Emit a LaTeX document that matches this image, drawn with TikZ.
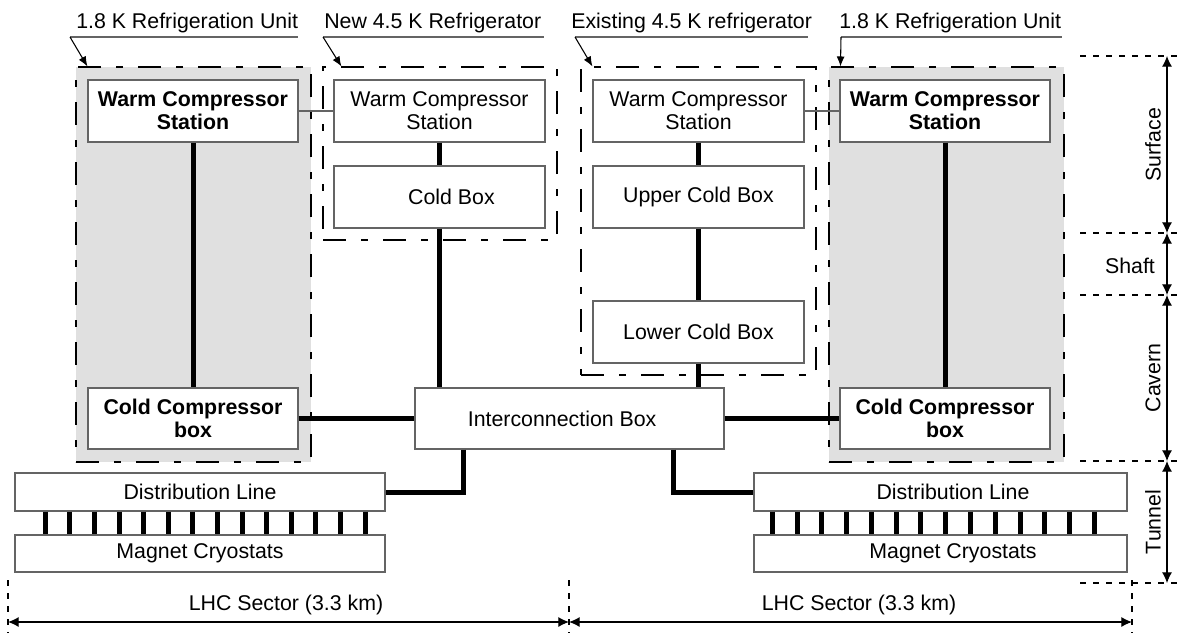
\documentclass[tikz,border=0pt]{standalone}
\usepackage{fontspec}
\setmainfont{Liberation Sans}
\usetikzlibrary{arrows.meta,calc}
\definecolor{regiongrey}{RGB}{224,224,224}
\definecolor{boxline}{RGB}{100,100,100}
\tikzset{
  every node/.style={font=\fontsize{16}{17.25}\selectfont},
  box/.style 2 args={draw=boxline, line width=1pt, fill=white, inner sep=0pt,
    minimum width=#1*0.75pt, minimum height=#2*0.75pt, align=center},
  boldbox/.style 2 args={box={#1}{#2}, font=\fontsize{16}{17.25}\selectfont\bfseries},
  region/.style 2 args={draw=black, line width=0.8pt, inner sep=0pt,
    dash pattern=on 17.25pt off 11.25pt on 5.25pt off 11.25pt,
    minimum width=#1*0.75pt, minimum height=#2*0.75pt},
  pipe/.style={line width=3.75pt, black},
  thinlink/.style={draw=boxline, line width=0.8pt},
  leader/.style={line width=0.8pt, -{Latex[length=7.5pt,width=6pt]}},
  underl/.style={draw=boxline, line width=0.8pt},
  dimline/.style={line width=0.8pt, {Latex[length=8pt,width=7.5pt]}-{Latex[length=8pt,width=7.5pt]}},
  dimdash/.style={line width=0.8pt, dash pattern=on 4.5pt off 5.25pt},
  lbl/.style={anchor=base west, inner sep=0pt},
}
\begin{document}
\begin{tikzpicture}[x=0.75pt, y=-0.75pt]
\useasboundingbox (0,0) rectangle (1177,633);

% regions
\node[region={235}{395}, fill=regiongrey] (lreg) at (193.5,264.5) {};
\node[region={234}{173}] (nreg) at (440,153.5) {};
\node[region={235}{308}] (ereg) at (698.5,221) {};
\node[region={235}{395}, fill=regiongrey] (rreg) at (946.5,264.5) {};

% region labels with leaders
\node[lbl] (t1) at (76,28) {1.8 K Refrigeration Unit};
\node[lbl] (t2) at (324,28) {New 4.5 K Refrigerator};
\node[lbl] (t3) at (571,28) {Existing 4.5 K refrigerator};
\node[lbl] (t4) at (839,28) {1.8 K Refrigeration Unit};
\coordinate (u1s) at (70,37);  \coordinate (u1e) at (298,37);
\coordinate (u2s) at (323,37); \coordinate (u2e) at (544,37);
\coordinate (u3s) at (575,37); \coordinate (u3e) at (808,37);
\coordinate (u4s) at (841,37); \coordinate (u4e) at (1062,37);
\draw[underl] (u1s) -- (u1e);
\draw[underl] (u2s) -- (u2e);
\draw[underl] (u3s) -- (u3e);
\draw[underl] (u4s) -- (u4e);
\draw[leader] (u1s) -- ($(lreg.north west)+(12,0)$);
\draw[leader] (u2s) -- ($(nreg.north west)+(19,0)$);
\draw[leader] (u3s) -- ($(ereg.north west)+(12,0)$);
\draw[leader] (u4s) -- ($(rreg.north west)+(12,0)$);

% boxes
\node[boldbox={210}{62}] (lwcs) at (193,111) {Warm Compressor\\Station};
\node[boldbox={210}{61}] (lccb) at (193,418.5) {Cold Compressor\\box};
\node[box={211}{62}] (nwcs) at (439.5,111) {Warm Compressor\\Station};
\node[box={211}{62}] (ncb) at (439.5,197) {\hspace*{18pt}Cold Box};
\node[box={211}{62}] (ewcs) at (698.5,111) {Warm Compressor\\Station};
\node[box={211}{62}] (eucb) at (698.5,197) {Upper Cold Box};
\node[box={211}{62}] (elcb) at (698.5,332) {Lower Cold Box};
\node[boldbox={210}{62}] (rwcs) at (945,111) {Warm Compressor\\Station};
\node[boldbox={210}{61}] (rccb) at (945,418.5) {Cold Compressor\\box};
\node[box={309}{61}] (ib) at (569.5,418.5) {Interconnection Box\kern11pt};
\node[box={370}{38}] (ldl) at (200,492) {Distribution Line};
\node[box={370}{37}] (lmc) at (200,553.5) {Magnet Cryostats};
\node[box={373}{38}] (rdl) at (940.5,492) {\hspace*{18.75pt}Distribution Line};
\node[box={373}{37}] (rmc) at (940.5,553.5) {\hspace*{18.75pt}Magnet Cryostats};

% thin links
\draw[thinlink] (lwcs.east) -- (nwcs.west);
\draw[thinlink] (ewcs.east) -- (rwcs.west);

% pipes
\draw[pipe] (lwcs.south) -- (lccb.north);
\draw[pipe] (rwcs.south) -- (rccb.north);
\draw[pipe] (nwcs.south) -- (ncb.north);
\draw[pipe] (ncb.south) -- (ncb.south |- ib.north);
\draw[pipe] (ewcs.south) -- (eucb.north);
\draw[pipe] (eucb.south) -- (elcb.north);
\draw[pipe] (elcb.south) -- (elcb.south |- ib.north);
\draw[pipe] (lccb.east) -- (ib.west);
\draw[pipe] (ib.east) -- (rccb.west);
\coordinate (ibl) at ($(ib.south west)+(49,0)$);
\coordinate (ibr) at ($(ib.south west)+(259.5,0)$);
\draw[pipe] (ibl) |- (ldl.east);
\draw[pipe] (ibr) |- (rdl.west);
\foreach \i in {0,...,13} {
  \coordinate (lb) at ($(ldl.south west)+(31+24.6*\i,0)$);
  \draw[pipe] (lb) -- (lb |- lmc.north);
  \coordinate (rb) at ($(rdl.south west)+(19+24.77*\i,0)$);
  \draw[pipe] (rb) -- (rb |- rmc.north);
}

% level dimensions
\foreach \n/\y in {0/56,1/233,2/295,3/461,4/583} {
  \coordinate (d\n) at (1167,\y);
  \coordinate (h\n) at (1080,\y);
  \coordinate (k\n) at (1177,\y);
  \draw[dimdash] (h\n) -- (k\n);
}
\draw[dimline] (d0) -- (d1);
\draw[dimline] (d1) -- (d2);
\draw[dimline] (d2) -- (d3);
\draw[dimline] (d3) -- (d4);
\node[rotate=90] (surf) at (1153,144.5) {Surface};
\node (shaft) at (1130,266) {Shaft};
\node[rotate=90] (cav) at (1153,378) {Cavern};
\node[rotate=90] (tun) at (1153,522) {Tunnel};

% LHC sector dimensions
\foreach \n/\x in {0/8,1/569,2/1132} {
  \coordinate (s\n) at (\x,580);
  \coordinate (e\n) at (\x,633);
  \coordinate (a\n) at (\x,622);
  \draw[dimdash] (s\n) -- (e\n);
}
\draw[dimline] (a0) -- (a1);
\draw[dimline] (a1) -- (a2);
\node (lhc1) at (286,605) {LHC Sector (3.3 km)};
\node (lhc2) at (859,605) {LHC Sector (3.3 km)};
\end{tikzpicture}
\end{document}
